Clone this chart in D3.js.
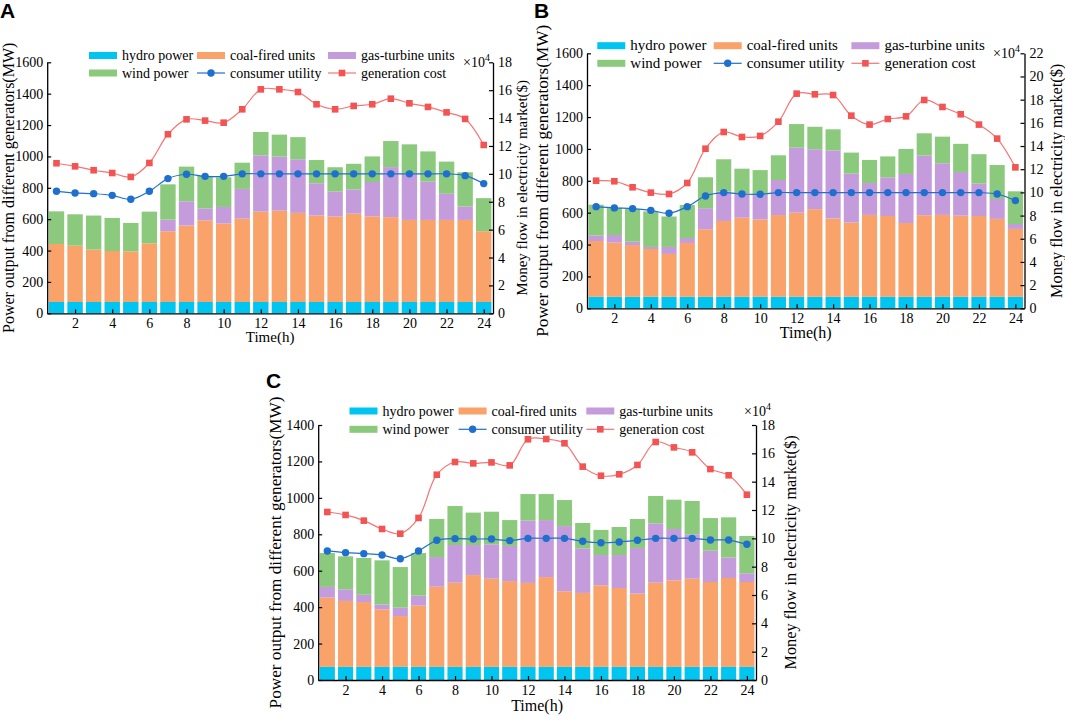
<!DOCTYPE html>
<html>
<head>
<meta charset="utf-8">
<script src="https://cdn.jsdelivr.net/npm/d3@7"></script>
<style>
  body { margin: 0; background: #fff; }
  svg { display: block; }
  text { font-family: "Liberation Serif", "Times New Roman", serif; fill: #000; }
</style>
</head>
<body>
<svg id="chart" width="1065" height="716"></svg>
<script>
// hours of the day (categories)
const hours = [1,2,3,4,5,6,7,8,9,10,11,12,13,14,15,16,17,18,19,20,21,22,23,24];
const xTicks = [2,4,6,8,10,12,14,16,18,20,22,24];

// hydro output is the same in all three cases (MW)
const hydro = [72,72,72,72,72,72,72,72,72,72,72,72,72,72,72,72,72,72,72,72,72,72,72,72];

// case A (MW)
const coalA = [370,359,334,325,323,374,451,487,521,500,531,576,582,568,551,546,563,546,541,523,523,523,523,451];
const gasA  = [0,0,0,0,0,0,74,155,76,106,190,359,345,342,206,158,155,219,319,297,244,167,86,0];
const windA = [208,200,217,211,181,202,225,221,207,189,167,149,140,141,148,155,163,163,166,185,193,205,218,211];
// case A money flow (x10^4 $)
const utilityA = [8.75,8.63,8.58,8.46,8.18,8.75,9.66,9.97,9.82,9.82,10,10,10,10,10,10,10,10,10,10,10,10,9.87,9.30];
const costA    = [10.76,10.54,10.26,10.06,9.78,10.78,12.84,13.91,13.82,13.67,14.63,16.06,16.06,15.87,14.99,14.63,14.87,14.99,15.39,15.06,14.80,14.41,13.94,12.07];

// case B (MW)
const coalB = [350,340,325,300,269,338,424,476,496,486,513,528,550,492,466,514,507,463,512,514,509,507,489,426];
const gasB  = [34,48,21,13,44,31,132,184,153,154,220,408,376,427,307,200,243,308,374,324,274,203,125,31];
const windB = [194,171,205,223,191,207,194,203,155,155,155,148,141,132,132,145,131,157,140,167,177,185,213,205];
const utilityB = [8.77,8.66,8.60,8.45,8.20,8.77,9.69,9.98,9.86,9.84,9.98,9.98,9.98,9.98,9.98,9.98,9.98,9.98,9.98,9.98,9.98,9.98,9.86,9.29];
const costB    = [11.01,10.96,10.44,9.98,9.86,10.81,13.77,15.21,14.78,14.87,16.10,18.52,18.46,18.40,16.62,15.85,16.33,16.56,17.97,17.37,16.74,15.85,14.64,12.16];

// case C (MW)
const coalC = [380,362,356,316,279,336,440,462,504,484,471,461,493,415,406,448,433,402,462,475,484,466,488,466];
const gasC  = [59,64,40,26,46,55,163,207,165,189,193,342,313,358,245,166,181,251,326,282,244,172,113,48];
const windC = [186,181,202,243,223,234,209,214,178,179,142,146,143,143,139,138,154,159,150,161,183,179,220,205];
const utilityC = [9.11,8.99,8.92,8.82,8.56,9.11,9.86,9.98,9.95,9.95,9.84,10,10,10,9.79,9.69,9.74,9.86,10,10,10,9.88,9.88,9.58];
const costC    = [11.86,11.65,11.25,10.66,10.33,11.44,14.49,15.39,15.29,15.36,15.15,16.99,17.01,16.71,15.06,14.42,14.52,15.18,16.80,16.42,16.07,14.89,14.45,13.08];

const keys = ["hydro", "coal", "gas", "wind"];
const colors = {
  hydro: "#00c5f0",
  coal: "#f9a26a",
  gas: "#c59cdb",
  wind: "#8bc97c",
  utility: "#1f6fcf",
  cost: "#f25454",
  costLine: "#f77474"
};

const svg = d3.select("#chart");

function drawPanel(p) {
  const g = svg.append("g");

  const x = d3.scaleLinear().domain([0.5, 24.5]).range([p.left, p.right]);
  const y = d3.scaleLinear().domain([0, p.yMax]).range([p.bottom, p.top]);
  const y2 = d3.scaleLinear().domain([0, p.y2Max]).range([p.bottom, p.top]);

  const rows = hours.map((h, i) => ({
    hour: h, hydro: p.hydro[i], coal: p.coal[i], gas: p.gas[i], wind: p.wind[i]
  }));
  const series = d3.stack().keys(keys)(rows);
  const bw = (x(2) - x(1)) * 0.83;

  g.append("g")
    .selectAll("g")
    .data(series)
    .join("g")
      .attr("fill", d => colors[d.key])
    .selectAll("rect")
    .data(d => d)
    .join("rect")
      .attr("x", d => x(d.data.hour) - bw / 2)
      .attr("width", bw)
      .attr("y", d => y(d[1]))
      .attr("height", d => y(d[0]) - y(d[1]));

  // axes, ticks pointing inward like the original plot
  const fs = p.tickFont;
  const styleTicks = a => a.selectAll("text")
    .style("font-size", fs + "px")
    .style("font-family", "Liberation Serif, Times New Roman, serif");

  g.append("g")
    .attr("transform", `translate(${p.left},0)`)
    .call(d3.axisLeft(y).tickValues(d3.range(0, p.yMax + 1, 200)).tickFormat(d3.format("d"))
      .tickSizeInner(-4).tickSizeOuter(0).tickPadding(4))
    .call(styleTicks);

  g.append("g")
    .attr("transform", `translate(${p.right},0)`)
    .call(d3.axisRight(y2).tickValues(d3.range(0, p.y2Max + 1, 2)).tickFormat(d3.format("d"))
      .tickSizeInner(-4).tickSizeOuter(0).tickPadding(5))
    .call(styleTicks);

  g.append("g")
    .attr("transform", `translate(0,${p.bottom})`)
    .call(d3.axisBottom(x).tickValues(xTicks).tickFormat(d3.format("d"))
      .tickSizeInner(-4).tickSizeOuter(0).tickPadding(5))
    .call(styleTicks);

  g.selectAll(".domain").attr("stroke", "#000").attr("stroke-width", 1.3);
  g.selectAll(".tick line").attr("stroke", "#000").attr("stroke-width", 1.2);

  // money flow lines
  const line = vals => d3.line()
    .curve(d3.curveCatmullRom.alpha(0.5))
    .x((v, i) => x(hours[i]))
    .y(v => y2(v))(vals);

  g.append("path")
    .attr("d", line(p.cost))
    .attr("fill", "none")
    .attr("stroke", colors.costLine)
    .attr("stroke-width", 1.2);
  g.append("g")
    .selectAll("rect")
    .data(p.cost)
    .join("rect")
      .attr("x", (v, i) => x(hours[i]) - 3.3)
      .attr("y", v => y2(v) - 3.3)
      .attr("width", 6.6)
      .attr("height", 6.6)
      .attr("fill", colors.cost);

  g.append("path")
    .attr("d", line(p.utility))
    .attr("fill", "none")
    .attr("stroke", colors.utility)
    .attr("stroke-width", 1.2);
  g.append("g")
    .selectAll("circle")
    .data(p.utility)
    .join("circle")
      .attr("cx", (v, i) => x(hours[i]))
      .attr("cy", v => y2(v))
      .attr("r", 3.7)
      .attr("fill", colors.utility);

  // legend
  const items = [
    {key: "hydro", label: "hydro power", row: 0, col: 0, kind: "box"},
    {key: "coal", label: "coal-fired units", row: 0, col: 1, kind: "box"},
    {key: "gas", label: "gas-turbine units", row: 0, col: 2, kind: "box"},
    {key: "wind", label: "wind power", row: 1, col: 0, kind: "box"},
    {key: "utility", label: "consumer utility", row: 1, col: 1, kind: "circle"},
    {key: "cost", label: "generation cost", row: 1, col: 2, kind: "square"}
  ];
  const lg = g.append("g");
  items.forEach(it => {
    const lx = p.legendX[it.col];
    const ly = p.legendY[it.row];
    if (it.kind === "box") {
      lg.append("rect").attr("x", lx).attr("y", ly - 3.5).attr("width", 28).attr("height", 7).attr("fill", colors[it.key]);
    } else {
      const lineColor = it.key === "cost" ? colors.costLine : colors[it.key];
      lg.append("line").attr("x1", lx).attr("x2", lx + 28).attr("y1", ly).attr("y2", ly)
        .attr("stroke", lineColor).attr("stroke-width", 1.2);
      if (it.kind === "circle") {
        lg.append("circle").attr("cx", lx + 14).attr("cy", ly).attr("r", 3.7).attr("fill", colors[it.key]);
      } else {
        lg.append("rect").attr("x", lx + 14 - 3.3).attr("y", ly - 3.3).attr("width", 6.6).attr("height", 6.6).attr("fill", colors[it.key]);
      }
    }
    lg.append("text").attr("x", lx + 33).attr("y", ly + 4.5)
      .style("font-size", p.legendFont + "px").text(it.label);
  });

  // x10^4 marker
  const m = g.append("text").attr("x", p.expX).attr("y", p.expY).style("font-size", fs + "px");
  m.append("tspan").text("×10");
  m.append("tspan").attr("dy", -6).style("font-size", (fs * 0.7) + "px").text("4");

  // axis titles
  g.append("text")
    .attr("transform", `translate(${p.leftLabelX},${(p.top + p.bottom) / 2}) rotate(-90)`)
    .attr("text-anchor", "middle").attr("dy", "0.35em")
    .style("font-size", p.leftTitleFont + "px")
    .text("Power output from different generators(MW)");
  g.append("text")
    .attr("transform", `translate(${p.rightLabelX},${(p.top + p.bottom) / 2}) rotate(-90)`)
    .attr("text-anchor", "middle").attr("dy", "0.35em")
    .style("font-size", p.rightTitleFont + "px")
    .text("Money flow in electricity market($)");
  g.append("text")
    .attr("x", (p.left + p.right) / 2).attr("y", p.bottom + p.timeOffset)
    .attr("text-anchor", "middle")
    .style("font-size", p.timeFont + "px")
    .text("Time(h)");

  // panel letter
  g.append("text")
    .attr("x", p.letterX).attr("y", p.letterY)
    .style("font-family", "Liberation Sans, Arial, sans-serif")
    .style("font-weight", "bold").style("font-size", "21px")
    .text(p.letter);
}

drawPanel({
  letter: "A", letterX: 0, letterY: 18,
  left: 47.2, right: 493, top: 62.3, bottom: 313.3,
  yMax: 1600, y2Max: 18,
  hydro: hydro, coal: coalA, gas: gasA, wind: windA, utility: utilityA, cost: costA,
  legendX: [89, 197, 328], legendY: [55.5, 73],
  expX: 463, expY: 67, leftLabelX: 8, rightLabelX: 521.5,
  tickFont: 14, legendFont: 14, leftTitleFont: 16, rightTitleFont: 15,
  timeFont: 15, timeOffset: 29
});

drawPanel({
  letter: "B", letterX: 534, letterY: 18,
  left: 587, right: 1024.5, top: 53.3, bottom: 308.3,
  yMax: 1600, y2Max: 22,
  hydro: hydro, coal: coalB, gas: gasB, wind: windB, utility: utilityB, cost: costB,
  legendX: [597.3, 713.7, 851.4], legendY: [45.7, 63.3],
  expX: 993, expY: 58, leftLabelX: 542, rightLabelX: 1056,
  tickFont: 14, legendFont: 15, leftTitleFont: 17.2, rightTitleFont: 16.3,
  timeFont: 16, timeOffset: 30
});

drawPanel({
  letter: "C", letterX: 266, letterY: 388,
  left: 318.2, right: 756, top: 425, bottom: 680,
  yMax: 1400, y2Max: 18,
  hydro: hydro, coal: coalC, gas: gasC, wind: windC, utility: utilityC, cost: costC,
  legendX: [349.5, 458.6, 586.3], legendY: [411, 429.3],
  expX: 744, expY: 416, leftLabelX: 274.5, rightLabelX: 790,
  tickFont: 14, legendFont: 14, leftTitleFont: 17.2, rightTitleFont: 16.3,
  timeFont: 16, timeOffset: 31
});
</script>
</body>
</html>
